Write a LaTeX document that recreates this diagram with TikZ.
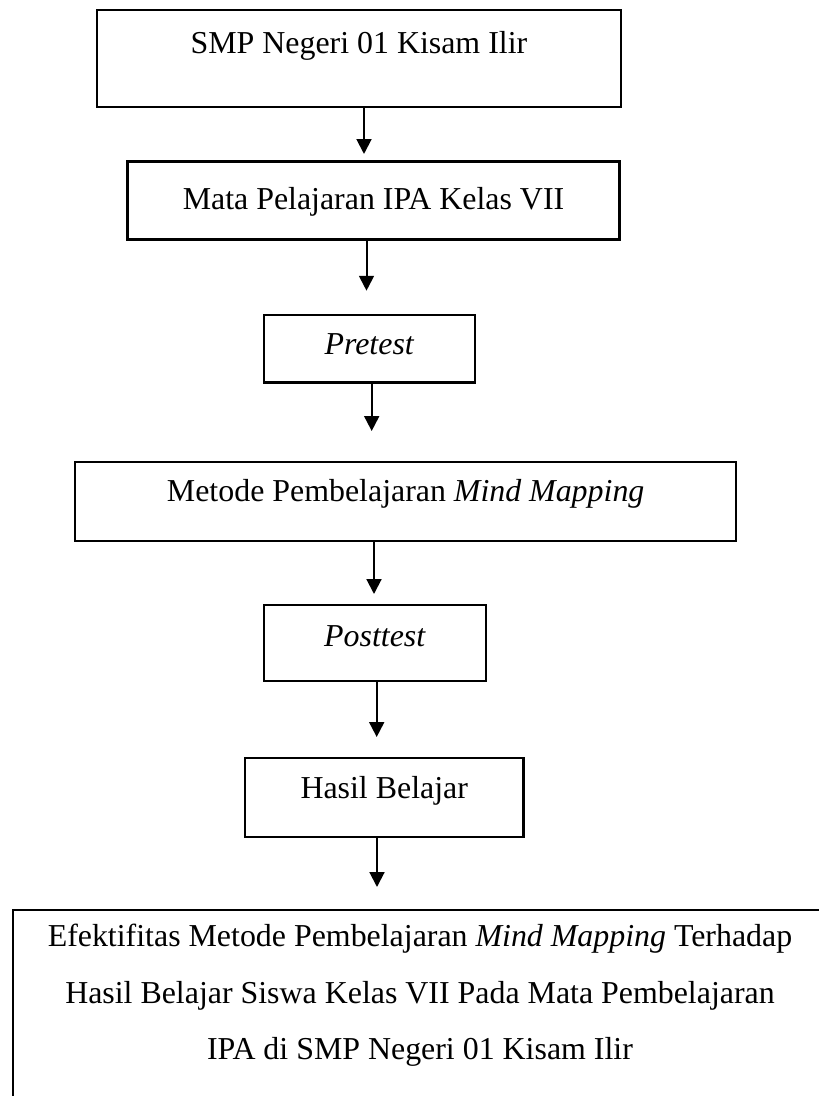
\documentclass[tikz,border=0pt]{standalone}
\usepackage{fontspec}
\setmainfont{Liberation Serif}
\usetikzlibrary{arrows.meta}

\begin{document}
\begin{tikzpicture}[x=0.3762pt, y=-0.3762pt,
    kotak/.style={draw, line width=0.9pt, inner sep=0pt, text height=8pt,
        font=\fontsize{12}{14.4}\selectfont},
    kotakbesar/.style={draw, line width=0.9pt, inner xsep=0pt, inner ysep=5.3pt,
        align=center, font=\fontsize{12}{21.25}\selectfont},
    panah/.style={-{Triangle[length=5.6pt, width=5.6pt]}, line width=0.75pt}]

        % Page frame (last box runs off the page)
        \useasboundingbox (0,0) rectangle (819,1096);
        \clip (0,0) rectangle (819,1096);

        % Boxes, top to bottom
        \node[kotak, minimum width=197.2pt, minimum height=36.5pt, text depth=12pt] (sekolah) at (358.9,58.5) {SMP Negeri 01 Kisam Ilir};
        \node[kotak, minimum width=185.2pt, minimum height=29.3pt, text height=10pt, text depth=3.2pt] (mapel) at (373.5,200.4) {Mata Pelajaran IPA Kelas VII};
        \node[kotak, minimum width=79.4pt, minimum height=25.3pt, text depth=4pt] (pretest) at (369.5,348.7) {\textit{Pretest}};
        \node[kotak, minimum width=248.6pt, minimum height=29.6pt, text depth=8pt] (metode) at (405.7,501.4) {Metode Pembelajaran \textit{Mind Mapping}};
        \node[kotak, minimum width=83.5pt, minimum height=28.6pt, text depth=5pt] (posttest) at (375,643) {\textit{Posttest}};
        \node[kotak, minimum width=104.7pt, minimum height=29.7pt, text depth=7pt] (hasil) at (384.2,797.5) {Hasil Belajar};
        \node[kotakbesar, anchor=north, minimum width=306.2pt, text depth=16pt] (efektivitas) at (420,909)
            {Efektifitas Metode Pembelajaran \textit{Mind Mapping} Terhadap\\
             Hasil Belajar Siswa Kelas VII Pada Mata Pembelajaran\\
             IPA di SMP Negeri 01 Kisam Ilir};

        % Arrow tips (they stop short of the next box)
        \coordinate (ujung1) at (364,154);
        \coordinate (ujung2) at (366.5,290.7);
        \coordinate (ujung3) at (371.7,431);
        \coordinate (ujung4) at (374,594);
        \coordinate (ujung5) at (376.7,737);
        \coordinate (ujung6) at (377,887);

        % Arrows
        \draw[panah] (ujung1 |- sekolah.south) -- (ujung1);
        \draw[panah] (ujung2 |- mapel.south) -- (ujung2);
        \draw[panah] (ujung3 |- pretest.south) -- (ujung3);
        \draw[panah] (ujung4 |- metode.south) -- (ujung4);
        \draw[panah] (ujung5 |- posttest.south) -- (ujung5);
        \draw[panah] (ujung6 |- hasil.south) -- (ujung6);

\end{tikzpicture}
\end{document}
